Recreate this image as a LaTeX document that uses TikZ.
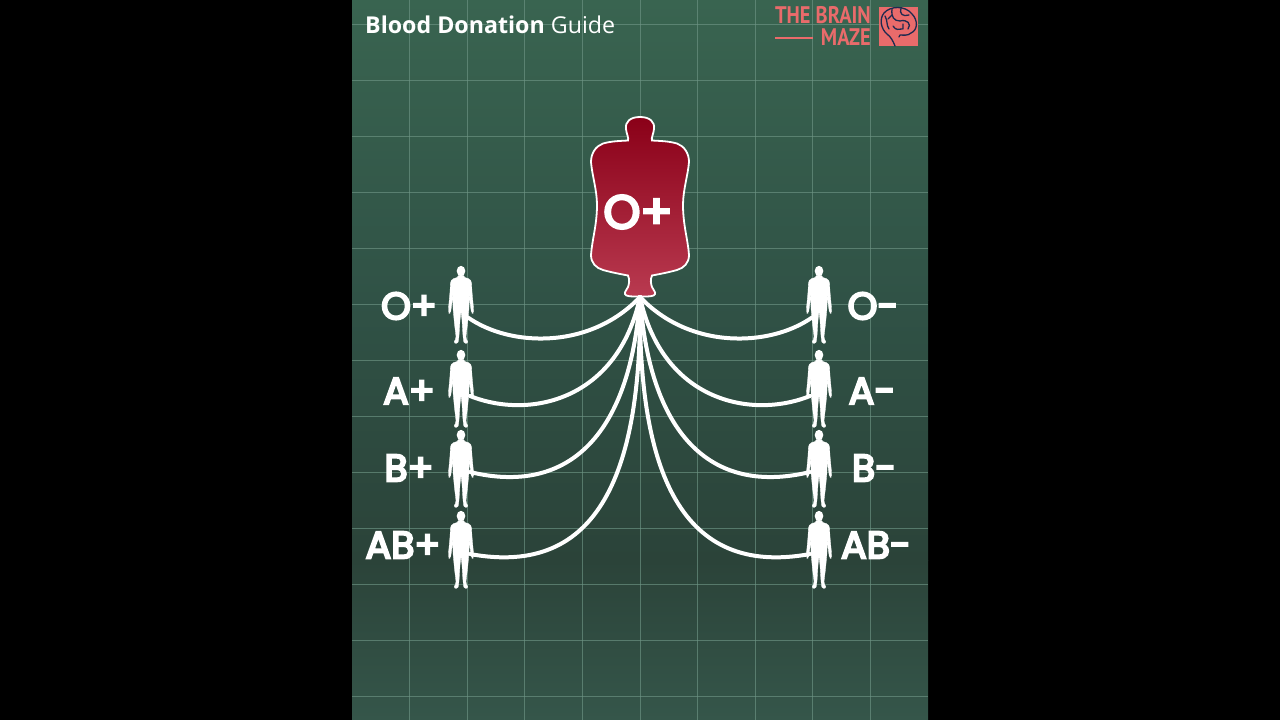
\documentclass[tikz,border=0pt]{standalone}
\usepackage{fontspec}
\usetikzlibrary{fadings,calc}
\newfontfamily\labfont{Poppins}[FakeBold=5.5]
\newfontfamily\titlefont{Open Sans}
\newfontfamily\logofont{PT Sans}
\definecolor{bgtop}{HTML}{396450}
\definecolor{bgmid}{HTML}{305246}
\definecolor{bglow}{HTML}{2B4339}
\definecolor{bgend}{HTML}{35564A}
\definecolor{gridc}{HTML}{6E9585}
\definecolor{coral}{HTML}{E96B6B}
\definecolor{navy}{HTML}{1E2A50}
\definecolor{bagtop}{HTML}{8A0018}
\definecolor{bagbot}{HTML}{B93A50}
\tikzset{
  x=1pt,y=-1pt,
  gridline/.style={gridc,line width=0.9pt,opacity=.65},
  tube/.style={white,line width=4pt,line cap=round},
  bloodlabel/.style={white,font=\labfont\fontsize{38}{40}\selectfont,inner sep=0pt},
  figure/.style={fill=white,draw=white,line width=.3pt,rounded corners=1.5pt},
  logotext/.style={coral,inner sep=0pt,font=\logofont\bfseries\fontsize{24}{24}\selectfont,xscale=.85},
  brainline/.style={navy,line width=1.3pt,line cap=round,line join=round},
  person/.pic={
    \path[figure] (-2.3,9) -- (-2.5,11) -- (-9,13.2) -- (-10.5,16) -- (-11,26) -- (-12.5,42) -- (-12.5,47.5) -- (-10.5,47) -- (-9.2,38) -- (-8.3,27) -- (-8,42) -- (-6.5,58) -- (-4.8,72) -- (-7.5,77) -- (-3,77.5) -- (-2,70) -- (-1,54) -- (0,45)
      -- (1,54) -- (2,70) -- (3,77.5) -- (7.5,77) -- (4.8,72) -- (6.5,58) -- (8,42) -- (8.3,27) -- (9.2,38) -- (10.5,47) -- (12.5,47.5) -- (12.5,42) -- (11,26) -- (10.5,16) -- (9,13.2) -- (2.5,11) -- (2.3,9) -- cycle;
    \fill[white] (0,5) ellipse [x radius=4.3,y radius=5.2];
  }
}
\begin{document}
\begin{tikzpicture}
\useasboundingbox (0,0) rectangle (1280,720);
\fill[black] (0,0) rectangle (1280,720);
% panel
\path[top color=bgtop,bottom color=bgmid] (352,0) rectangle (928,300);
\path[top color=bgmid,bottom color=bglow] (352,300) rectangle (928,560);
\path[top color=bglow,bottom color=bgend] (352,560) rectangle (928,720);
% grid
\foreach \gx in {409.5,467,524.5,582,640,697.5,755,812.5,870}
  \draw[gridline] (\gx,0) -- (\gx,720);
\foreach \gy in {24,80,136,192,248,304,360,416,472,528,584,640,696}
  \draw[gridline] (352,\gy) -- (928,\gy);
% title
\node[anchor=west,white,inner sep=0pt,font=\titlefont\fontsize{23.2}{24}\selectfont] (title) at (365,25) {\textbf{Blood Donation} Guide};
% logo
\node[logotext,anchor=east] (logoa) at (871,15.5) {THE BRAIN};
\node[logotext,anchor=east] (logob) at (871,37.5) {MAZE};
\draw[coral,line width=2.6pt] (775,38) -- (813,38);
\fill[coral] (879,7) rectangle (918,46);
\begin{scope}[shift={(879,7)}]
  \draw[brainline] (16,39) .. controls (14,34) and (12,30) .. (8,27) .. controls (2,22) and (0,12) .. (5,6) .. controls (11,-1) and (26,-2) .. (33,7) .. controls (39,13) and (39,23) .. (32,26) .. controls (29,29) and (24,28) .. (21,28) -- (20,30);
  \draw[brainline] (6,9) .. controls (9,14) and (7,18) .. (10,22) (13,2) .. controls (12,10) and (15,14) .. (21,14) (22,1) .. controls (20,7) and (24,10) .. (30,8) (21,14) .. controls (28,12) and (33,17) .. (29,22) (14,19) .. controls (17,24) and (20,22) .. (23,22) (13,8) -- (9,12) (24,17) -- (24,22);
\end{scope}
% bag
\path[draw=white,line width=1.8pt,top color=bagtop,bottom color=bagbot]
  (640,117)
  .. controls (650,117) and (655,122) .. (654,129)
  .. controls (653.5,134) and (651,138) .. (652,140.5)
  .. controls (660,141) and (668,141) .. (677,143.5)
  .. controls (684,146) and (689,153) .. (689,162)
  .. controls (688,175) and (683,190) .. (683,205)
  .. controls (683,225) and (688,240) .. (689,255)
  .. controls (689,263) and (684,268) .. (677,270)
  .. controls (668,272.5) and (660,274) .. (652,275.5)
  .. controls (650,280) and (651,284) .. (652,287)
  .. controls (653,290) and (656,292) .. (655,294)
  .. controls (654,296.5) and (650,296.5) .. (640,296.5)
  .. controls (630,296.5) and (626,296.5) .. (625,294)
  .. controls (624,292) and (627,290) .. (628,287)
  .. controls (629,284) and (630,280) .. (628,275.5)
  .. controls (620,274) and (612,272.5) .. (603,270)
  .. controls (596,268) and (591,263) .. (591,255)
  .. controls (592,240) and (597,225) .. (597,205)
  .. controls (597,190) and (592,175) .. (591,162)
  .. controls (591,153) and (596,146) .. (603,143.5)
  .. controls (612,141) and (620,141) .. (628,140.5)
  .. controls (629,138) and (626.5,134) .. (626,129)
  .. controls (625,122) and (630,117) .. (640,117) -- cycle;
\node[white,inner sep=0pt,font=\labfont\fontsize{47}{49}\selectfont] (baglabel) at (638,212) {O+};
\coordinate (hub) at (640,297);
% people
\pic at (461,266) {person};
\pic at (461,350) {person};
\pic at (461,430) {person};
\pic at (461,511) {person};
\pic at (819,266) {person};
\pic at (819,350) {person};
\pic at (819,430) {person};
\pic at (819,511) {person};
% labels
\node[bloodlabel] (lo) at (409,306) {O+};
\node[bloodlabel] (la) at (409,391) {A+};
\node[bloodlabel] (lb) at (409,468) {B+};
\node[bloodlabel] (lab) at (403,545) {AB+};
\node[bloodlabel] (ro) at (873,306) {O-};
\node[bloodlabel] (ra) at (872,391) {A-};
\node[bloodlabel] (rb) at (874,468) {B-};
\node[bloodlabel] (rab) at (876,545) {AB-};
% tube ends
\coordinate (pa) at (468,317.5);
\coordinate (pb) at (470,396);
\coordinate (pc) at (470,472);
\coordinate (pd) at (470,554);
\coordinate (qa) at (812,317.5);
\coordinate (qb) at (810,396);
\coordinate (qc) at (810,472);
\coordinate (qd) at (810,554);
\draw[tube] (pa) .. controls (510,347) and (590,350) .. (hub);
\draw[tube] (pb) .. controls (530,420) and (618,400) .. (hub);
\draw[tube] (pc) .. controls (565,495) and (630,440) .. (hub);
\draw[tube] (pd) .. controls (600,578) and (642,470) .. (hub);
\draw[tube] (qa) .. controls (770,347) and (690,350) .. (hub);
\draw[tube] (qb) .. controls (750,420) and (662,400) .. (hub);
\draw[tube] (qc) .. controls (715,495) and (650,440) .. (hub);
\draw[tube] (qd) .. controls (680,578) and (638,470) .. (hub);
\end{tikzpicture}
\end{document}
